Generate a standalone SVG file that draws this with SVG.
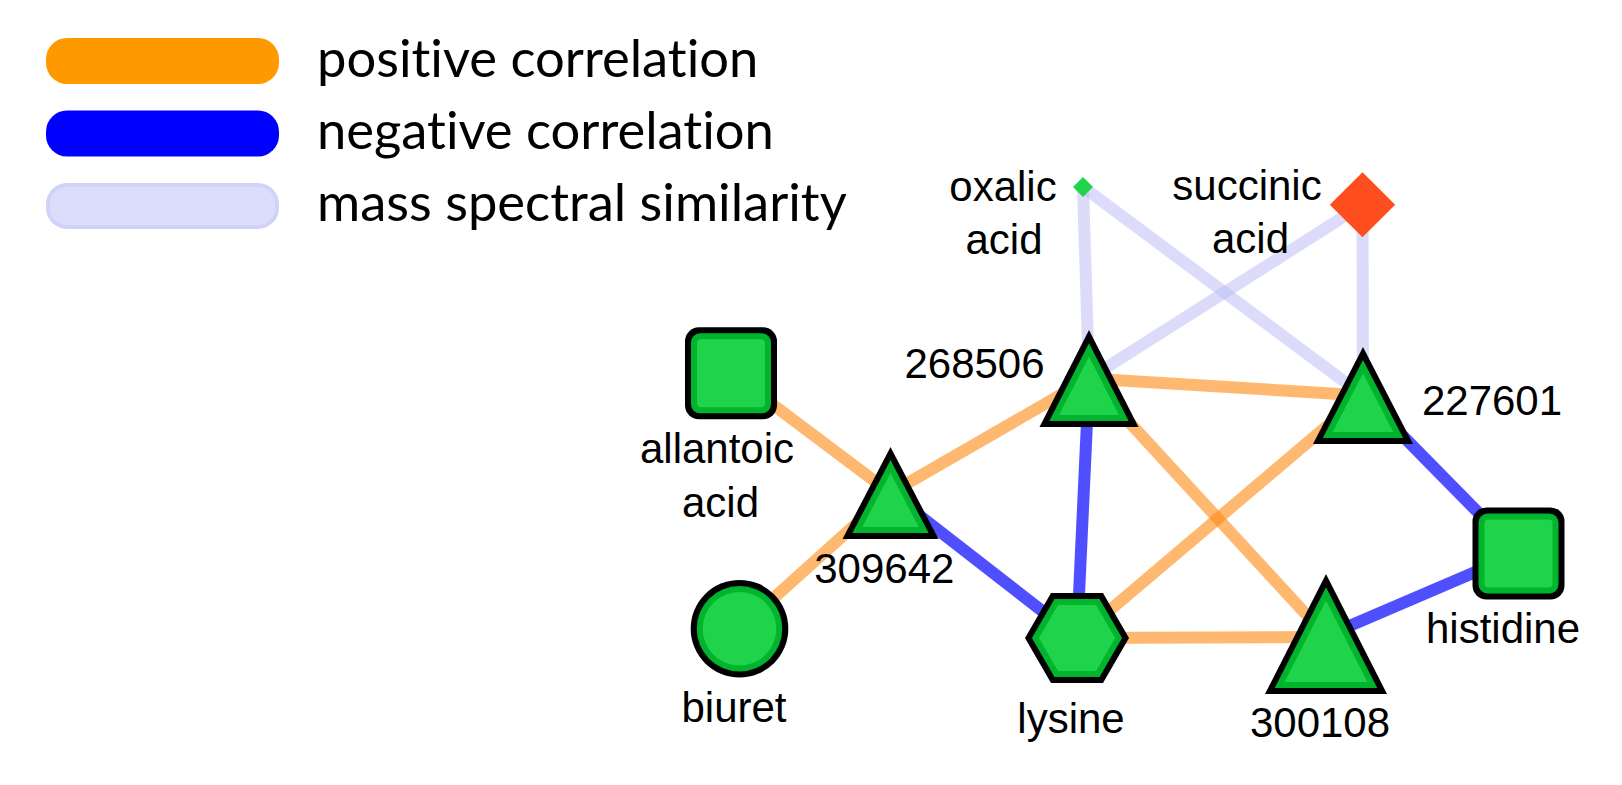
<svg xmlns="http://www.w3.org/2000/svg" width="1622" height="785" viewBox="0 0 1622 785">
<style>
.leg{font-family:Lato,"Noto Sans",sans-serif;font-size:52.5px;fill:#000;font-variant-ligatures:none;font-feature-settings:"liga" 0,"clig" 0}
.lbl{font-family:"Liberation Sans",Arial,sans-serif;font-size:42px;fill:#000;text-anchor:middle}
.pos{stroke:#ff8811;stroke-opacity:.6;stroke-width:12;fill:none}
.neg{stroke:#0000ff;stroke-opacity:.69;stroke-width:12;fill:none}
.sim{stroke:#b9b9f5;stroke-opacity:.5;stroke-width:12;fill:none}
.bk{fill:#000}
.dg{fill:#00b52d}
.lg{fill:#1fd34b}
</style>
<rect width="1622" height="785" fill="#fff"/>
<g id="legend">
<rect x="46" y="38" width="233" height="46" rx="21" fill="#ff9900"/>
<rect x="46" y="110.5" width="233" height="46" rx="21" fill="#0000ff"/>
<rect x="48" y="185" width="229" height="42" rx="19" fill="#dcdcfb" stroke="#d2d2f8" stroke-width="4"/>
<text class="leg" x="317" y="76.5">positive correlation</text>
<text class="leg" x="317" y="148.5">negative correlation</text>
<text class="leg" x="317" y="220.5">mass spectral similarity</text>
</g>
<g id="edges">
<line class="sim" x1="1083" y1="187" x2="1089" y2="378.5"/>
<line class="sim" x1="1083" y1="187" x2="1363" y2="395.5"/>
<line class="sim" x1="1362.5" y1="204.8" x2="1089" y2="378.5"/>
<line class="sim" x1="1362.5" y1="204.8" x2="1363" y2="395.5"/>
<line class="pos" x1="731" y1="373.3" x2="890.5" y2="493"/>
<line class="pos" x1="739.5" y1="628.7" x2="890.5" y2="493"/>
<line class="pos" x1="890.5" y1="493" x2="1089" y2="378.5"/>
<line class="pos" x1="1089" y1="378.5" x2="1363" y2="395.5"/>
<line class="pos" x1="1089" y1="378.5" x2="1326" y2="636"/>
<line class="pos" x1="1363" y1="395.5" x2="1077" y2="638"/>
<line class="pos" x1="1077" y1="638" x2="1326" y2="637"/>
<line class="neg" x1="890.5" y1="493" x2="1077" y2="638"/>
<line class="neg" x1="1089" y1="378.5" x2="1077" y2="638"/>
<line class="neg" x1="1363" y1="395.5" x2="1518.5" y2="553.5"/>
<line class="neg" x1="1326" y1="636" x2="1518.5" y2="553.5"/>
</g>
<g id="oxalic-acid">
<polygon points="1083,177 1093,187 1083,197 1073,187" fill="#1fd34b"/>
<text class="lbl" x="1003" y="200.7">oxalic</text>
<text class="lbl" x="1004" y="254.3">acid</text>
</g>
<g id="succinic-acid">
<polygon points="1362.5,172.3 1395.2,204.8 1362.5,237.3 1329.8,204.8" fill="#ff4e1e"/>
<text class="lbl" x="1247" y="199.5">succinic</text>
<text class="lbl" x="1250.5" y="252.8">acid</text>
</g>
<g id="n268506">
<polygon class="bk" points="1089,330 1138.5,427 1039.5,427"/>
<polygon class="dg" points="1089,330 1138.5,427 1039.5,427" transform="translate(1089 396.69) scale(0.802) translate(-1089 -396.69)"/>
<polygon class="lg" points="1089,330 1138.5,427 1039.5,427" transform="translate(1089 396.69) scale(0.604) translate(-1089 -396.69)"/>
<text class="lbl" x="974.5" y="378.3">268506</text>
</g>
<g id="n227601">
<polygon class="bk" points="1363,347 1413,444 1313,444"/>
<polygon class="dg" points="1363,347 1413,444 1313,444" transform="translate(1363 413.52) scale(0.803) translate(-1363 -413.52)"/>
<polygon class="lg" points="1363,347 1413,444 1313,444" transform="translate(1363 413.52) scale(0.606) translate(-1363 -413.52)"/>
<text class="lbl" x="1492" y="415">227601</text>
</g>
<g id="allantoic-acid">
<rect class="bk" x="685" y="327.3" width="92" height="92" rx="14"/>
<rect class="dg" x="691" y="333.3" width="80" height="80" rx="9"/>
<rect class="lg" x="697" y="339.3" width="68" height="68" rx="4"/>
<text class="lbl" x="717" y="463.3">allantoic</text>
<text class="lbl" x="720.5" y="516.7">acid</text>
</g>
<g id="n309642">
<polygon class="bk" points="890.5,447 938.5,539 842.5,539"/>
<polygon class="dg" points="890.5,447 938.5,539 842.5,539" transform="translate(890.5 509.9) scale(0.794) translate(-890.5 -509.9)"/>
<polygon class="lg" points="890.5,447 938.5,539 842.5,539" transform="translate(890.5 509.9) scale(0.588) translate(-890.5 -509.9)"/>
<text class="lbl" x="884.3" y="583.3">309642</text>
</g>
<g id="biuret">
<circle class="bk" cx="739.5" cy="628.7" r="48.8"/>
<circle class="dg" cx="739.5" cy="628.7" r="42.8"/>
<circle class="lg" cx="739.5" cy="628.7" r="36.8"/>
<text class="lbl" x="734" y="721.7">biuret</text>
</g>
<g id="lysine">
<polygon class="bk" points="1025,638 1051,593 1103,593 1129,638 1103,683 1051,683"/>
<polygon class="dg" points="1025,638 1051,593 1103,593 1129,638 1103,683 1051,683" transform="translate(1077 638) scale(0.867) translate(-1077 -638)"/>
<polygon class="lg" points="1025,638 1051,593 1103,593 1129,638 1103,683 1051,683" transform="translate(1077 638) scale(0.733) translate(-1077 -638)"/>
<text class="lbl" x="1071" y="733.3">lysine</text>
</g>
<g id="n300108">
<polygon class="bk" points="1326,574 1387,694 1265,694"/>
<polygon class="dg" points="1326,574 1387,694 1265,694" transform="translate(1326 656.58) scale(0.840) translate(-1326 -656.58)"/>
<polygon class="lg" points="1326,574 1387,694 1265,694" transform="translate(1326 656.58) scale(0.679) translate(-1326 -656.58)"/>
<text class="lbl" x="1320" y="736.7">300108</text>
</g>
<g id="histidine">
<rect class="bk" x="1472.5" y="507.5" width="92" height="92" rx="14"/>
<rect class="dg" x="1478.5" y="513.5" width="80" height="80" rx="9"/>
<rect class="lg" x="1484.5" y="519.5" width="68" height="68" rx="4"/>
<text class="lbl" x="1503" y="643.3">histidine</text>
</g>
</svg>
